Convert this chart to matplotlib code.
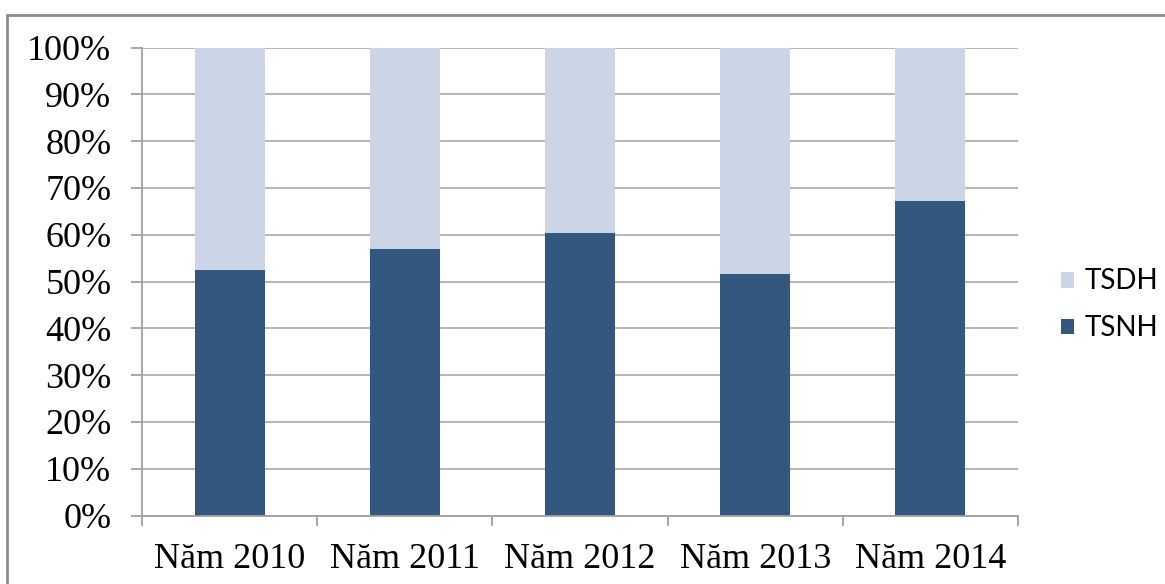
import matplotlib.pyplot as plt
from matplotlib.patches import Rectangle
from matplotlib.ticker import FixedLocator, PercentFormatter

years = ['Năm 2010', 'Năm 2011', 'Năm 2012', 'Năm 2013', 'Năm 2014']
tsnh = [52.5, 56.9, 60.4, 51.7, 67.2]
tsdh = [100 - v for v in tsnh]

dark = '#34577F'
light = '#CCD5E6'

fig = plt.figure(figsize=(11.65, 5.84), dpi=100)
ax = fig.add_axes([142 / 1165, 1 - 515.5 / 584, 876 / 1165, 468 / 584])

# khung ngoài
fig.patches.append(Rectangle((7 / 1165, -0.1), 1.2, 1 - 15 / 584 + 0.1,
                             transform=fig.transFigure, fill=False,
                             edgecolor='#8C8C8C', linewidth=2))

x = range(len(years))
ax.bar(x, tsnh, 0.4, color=dark, label='TSNH', zorder=3)
ax.bar(x, tsdh, 0.4, bottom=tsnh, color=light, label='TSDH', zorder=3)

ax.set_xlim(-0.5, len(years) - 0.5)
ax.set_ylim(0, 100)
ax.set_yticks(range(0, 101, 10))
ax.yaxis.set_major_formatter(PercentFormatter(decimals=0))
ax.set_xticks(list(x))
ax.set_xticklabels(years)
ax.xaxis.set_minor_locator(FixedLocator([i - 0.5 for i in range(len(years) + 1)]))

ax.grid(axis='y', color='#B0B0B0', linewidth=1.3, zorder=0)
for s in ['top', 'right']:
    ax.spines[s].set_visible(False)
for s in ['left', 'bottom']:
    ax.spines[s].set_color('#A0A0A0')
    ax.spines[s].set_linewidth(1.3)
    ax.spines[s].set_zorder(4)

ax.tick_params(axis='y', length=8, width=1.3, color='#A0A0A0', pad=14,
               labelsize=26, labelfontfamily='Liberation Serif')
ax.tick_params(axis='x', which='major', length=0, pad=20,
               labelsize=26, labelfontfamily='Liberation Serif')
ax.tick_params(axis='x', which='minor', length=7, width=1.3, color='#A0A0A0')

h, l = ax.get_legend_handles_labels()
ax.legend(h[::-1], l[::-1], loc='center left', bbox_to_anchor=(1.02, 0.45),
          frameon=False, prop={'family': 'Lato', 'size': 20},
          handlelength=0.5, handleheight=0.5, handletextpad=0.35,
          labelspacing=0.75)

fig.savefig('out.png', dpi=100)
